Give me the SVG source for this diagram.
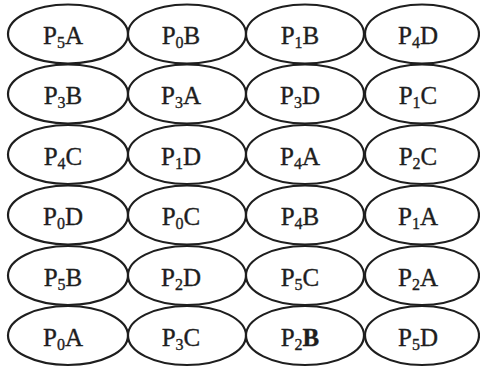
<svg xmlns="http://www.w3.org/2000/svg" width="480" height="367" viewBox="0 0 480 367">
<style>
ellipse{fill:#fff;stroke:#1e1e1e;stroke-width:2.2}
text{font-family:"Liberation Serif","Times New Roman",serif;font-size:25px;fill:#1e1e1e;stroke:#1e1e1e;stroke-width:0.35;text-anchor:middle}
.s{font-size:16px}
.b{font-weight:bold}
</style>
<rect width="480" height="367" fill="#fff"/>
<g id="connectors"/>
<g id="n11"><ellipse cx="68" cy="34" rx="60" ry="29.5"/><text x="63" y="44">P<tspan class="s" dy="4">5</tspan><tspan dy="-4">A</tspan></text></g>
<g id="n12"><ellipse cx="187" cy="34" rx="59" ry="29.5"/><text x="181" y="44">P<tspan class="s" dy="4">0</tspan><tspan dy="-4">B</tspan></text></g>
<g id="n13"><ellipse cx="305" cy="34" rx="59" ry="29.5"/><text x="300" y="44">P<tspan class="s" dy="4">1</tspan><tspan dy="-4">B</tspan></text></g>
<g id="n14"><ellipse cx="422" cy="34" rx="57" ry="29.5"/><text x="418" y="44">P<tspan class="s" dy="4">4</tspan><tspan dy="-4">D</tspan></text></g>

<g id="n21"><ellipse cx="68" cy="94" rx="60" ry="29.5"/><text x="63" y="104">P<tspan class="s" dy="4">3</tspan><tspan dy="-4">B</tspan></text></g>
<g id="n22"><ellipse cx="187" cy="94" rx="59" ry="29.5"/><text x="181" y="104">P<tspan class="s" dy="4">3</tspan><tspan dy="-4">A</tspan></text></g>
<g id="n23"><ellipse cx="305" cy="94" rx="59" ry="29.5"/><text x="300" y="104">P<tspan class="s" dy="4">3</tspan><tspan dy="-4">D</tspan></text></g>
<g id="n24"><ellipse cx="422" cy="94" rx="57" ry="29.5"/><text x="418" y="104">P<tspan class="s" dy="4">1</tspan><tspan dy="-4">C</tspan></text></g>

<g id="n31"><ellipse cx="68" cy="154.5" rx="60" ry="29.5"/><text x="63" y="164.5">P<tspan class="s" dy="4">4</tspan><tspan dy="-4">C</tspan></text></g>
<g id="n32"><ellipse cx="187" cy="154.5" rx="59" ry="29.5"/><text x="181" y="164.5">P<tspan class="s" dy="4">1</tspan><tspan dy="-4">D</tspan></text></g>
<g id="n33"><ellipse cx="305" cy="154.5" rx="59" ry="29.5"/><text x="300" y="164.5">P<tspan class="s" dy="4">4</tspan><tspan dy="-4">A</tspan></text></g>
<g id="n34"><ellipse cx="422" cy="154.5" rx="57" ry="29.5"/><text x="418" y="164.5">P<tspan class="s" dy="4">2</tspan><tspan dy="-4">C</tspan></text></g>

<g id="n41"><ellipse cx="68" cy="215" rx="60" ry="29.5"/><text x="63" y="225">P<tspan class="s" dy="4">0</tspan><tspan dy="-4">D</tspan></text></g>
<g id="n42"><ellipse cx="187" cy="215" rx="59" ry="29.5"/><text x="181" y="225">P<tspan class="s" dy="4">0</tspan><tspan dy="-4">C</tspan></text></g>
<g id="n43"><ellipse cx="305" cy="215" rx="59" ry="29.5"/><text x="300" y="225">P<tspan class="s" dy="4">4</tspan><tspan dy="-4">B</tspan></text></g>
<g id="n44"><ellipse cx="422" cy="215" rx="57" ry="29.5"/><text x="418" y="225">P<tspan class="s" dy="4">1</tspan><tspan dy="-4">A</tspan></text></g>

<g id="n51"><ellipse cx="68" cy="275.5" rx="60" ry="29.5"/><text x="63" y="285.5">P<tspan class="s" dy="4">5</tspan><tspan dy="-4">B</tspan></text></g>
<g id="n52"><ellipse cx="187" cy="275.5" rx="59" ry="29.5"/><text x="181" y="285.5">P<tspan class="s" dy="4">2</tspan><tspan dy="-4">D</tspan></text></g>
<g id="n53"><ellipse cx="305" cy="275.5" rx="59" ry="29.5"/><text x="300" y="285.5">P<tspan class="s" dy="4">5</tspan><tspan dy="-4">C</tspan></text></g>
<g id="n54"><ellipse cx="422" cy="275.5" rx="57" ry="29.5"/><text x="418" y="285.5">P<tspan class="s" dy="4">2</tspan><tspan dy="-4">A</tspan></text></g>

<g id="n61"><ellipse cx="68" cy="335.5" rx="60" ry="29.5"/><text x="63" y="345.5">P<tspan class="s" dy="4">0</tspan><tspan dy="-4">A</tspan></text></g>
<g id="n62"><ellipse cx="187" cy="335.5" rx="59" ry="29.5"/><text x="181" y="345.5">P<tspan class="s" dy="4">3</tspan><tspan dy="-4">C</tspan></text></g>
<g id="n63"><ellipse cx="305" cy="335.5" rx="59" ry="29.5"/><text x="300" y="345.5">P<tspan class="s" dy="4">2</tspan><tspan class="b" dy="-4">B</tspan></text></g>
<g id="n64"><ellipse cx="422" cy="335.5" rx="57" ry="29.5"/><text x="418" y="345.5">P<tspan class="s" dy="4">5</tspan><tspan dy="-4">D</tspan></text></g>
</svg>
